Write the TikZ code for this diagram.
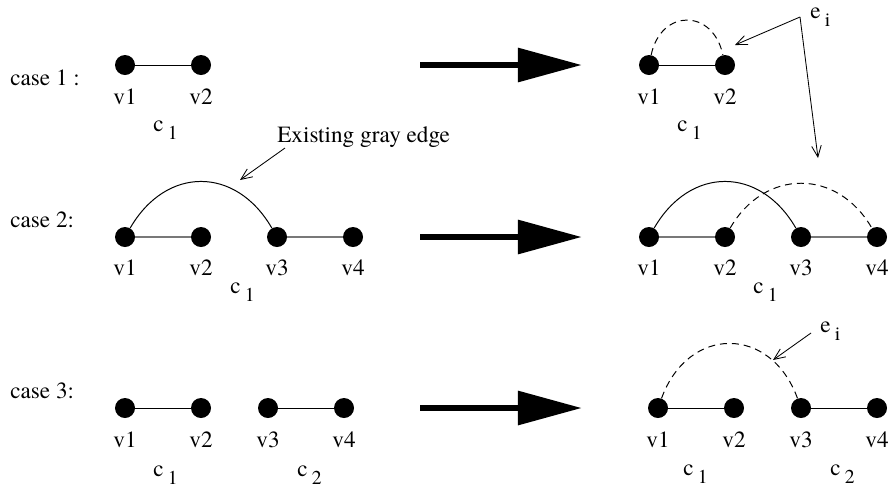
\documentclass[tikz,border=0pt]{standalone}
\usepackage{fontspec}
\setmainfont{texgyretermes-regular.otf}
\usepackage{tikz}
\usetikzlibrary{arrows.meta}
\usepackage{xcolor}
\definecolor{edgegray}{RGB}{120, 120, 120}
\newcommand{\lowsub}[2]{#1\hspace{3pt}\raisebox{-6pt}{\fontsize{14}{14}\selectfont #2}}
\tikzstyle{vertex} = [circle, fill=black, inner sep=0pt, minimum size=0.5cm]
\tikzstyle{vlabel} = [anchor=base, inner sep=0pt]
\tikzstyle{tlabel} = [anchor=base west, inner sep=0pt]
\tikzstyle{edge} = [line width=0.7pt, black]
\tikzstyle{grayedge} = [line width=1pt, edgegray]
\tikzstyle{newedge} = [line width=0.7pt, dash pattern=on 5pt off 3.5pt]
\tikzstyle{pointer} = [-{Straight Barb[length=2.8mm, width=2.4mm]}, line width=0.6pt]
\tikzstyle{bigarrow} = [-{Triangle[length=1.6cm, width=0.82cm]}, line width=4.7pt]

\begin{document}
\begin{tikzpicture}[x=0.025cm, y=-0.025cm, font=\rmfamily\fontsize{16.5}{19}\selectfont]
\useasboundingbox (0,0) rectangle (891,489);

% Case labels
\node[tlabel] (case1) at (10, 85) {case 1 :};
\node[tlabel] (case2) at (10, 227) {case 2:};
\node[tlabel] (case3) at (10, 398) {case 3:};

% Case 1, before
\node[vertex] (a1) at (125, 65) {};
\node[vertex] (a2) at (201, 65) {};
\draw[edge] (a1) -- (a2);
\node[vlabel] (la1) at (125, 104) {v1};
\node[vlabel] (la2) at (201, 104) {v2};
\node[tlabel] (ca1) at (153, 131) {\lowsub{c}{1}};

% Case 1, after
\node[vertex] (p1) at (649, 65) {};
\node[vertex] (p2) at (725, 65) {};
\draw[edge] (p1) -- (p2);
\draw[newedge] (p1) to[out=78, in=102, looseness=1.7] (p2);
\node[vlabel] (lp1) at (649, 104) {v1};
\node[vlabel] (lp2) at (725, 104) {v2};
\node[tlabel] (cp1) at (677, 131) {\lowsub{c}{1}};

% Case 2, before
\node[vertex] (b1) at (125, 237) {};
\node[vertex] (b2) at (201, 237) {};
\node[vertex] (b3) at (277, 237) {};
\node[vertex] (b4) at (353, 237) {};
\draw[grayedge] (b1) -- (b2);
\draw[grayedge] (b3) -- (b4);
\draw[edge] (b1) to[out=60, in=120, looseness=1.3] (b3);
\node[vlabel] (lb1) at (125, 275) {v1};
\node[vlabel] (lb2) at (201, 275) {v2};
\node[vlabel] (lb3) at (277, 275) {v3};
\node[vlabel] (lb4) at (353, 275) {v4};
\node[tlabel] (cb1) at (230, 293) {\lowsub{c}{1}};

% Case 2, after
\node[vertex] (q1) at (649, 237) {};
\node[vertex] (q2) at (725, 237) {};
\node[vertex] (q3) at (801, 237) {};
\node[vertex] (q4) at (877, 237) {};
\draw[grayedge] (q1) -- (q2);
\draw[grayedge] (q3) -- (q4);
\draw[edge] (q1) to[out=60, in=120, looseness=1.3] (q3);
\draw[newedge] (q2) to[out=60, in=120, looseness=1.25] (q4);
\node[vlabel] (lq1) at (649, 275) {v1};
\node[vlabel] (lq2) at (725, 275) {v2};
\node[vlabel] (lq3) at (801, 275) {v3};
\node[vlabel] (lq4) at (877, 275) {v4};
\node[tlabel] (cq1) at (753, 293) {\lowsub{c}{1}};

% Case 3, before
\node[vertex] (d1) at (125, 408) {};
\node[vertex] (d2) at (201, 408) {};
\node[vertex] (d3) at (268, 408) {};
\node[vertex] (d4) at (344, 408) {};
\draw[edge] (d1) -- (d2);
\draw[edge] (d3) -- (d4);
\node[vlabel] (ld1) at (125, 447) {v1};
\node[vlabel] (ld2) at (201, 447) {v2};
\node[vlabel] (ld3) at (268, 447) {v3};
\node[vlabel] (ld4) at (344, 447) {v4};
\node[tlabel] (cd1) at (153, 476) {\lowsub{c}{1}};
\node[tlabel] (cd2) at (297, 476) {\lowsub{c}{2}};

% Case 3, after
\node[vertex] (s1) at (658, 408) {};
\node[vertex] (s2) at (734, 408) {};
\node[vertex] (s3) at (801, 408) {};
\node[vertex] (s4) at (877, 408) {};
\draw[edge] (s1) -- (s2);
\draw[edge] (s3) -- (s4);
\draw[newedge] (s1) to[out=70, in=110, looseness=1.47] (s3);
\node[vlabel] (ls1) at (658, 447) {v1};
\node[vlabel] (ls2) at (734, 447) {v2};
\node[vlabel] (ls3) at (801, 447) {v3};
\node[vlabel] (ls4) at (877, 447) {v4};
\node[tlabel] (cs1) at (683, 475) {\lowsub{c}{1}};
\node[tlabel] (cs2) at (830, 475) {\lowsub{c}{2}};

% Big arrows
\coordinate (go1) at (420, 65);   \coordinate (to1) at (582, 65);
\coordinate (go2) at (420, 237);  \coordinate (to2) at (582, 237);
\coordinate (go3) at (420, 408);  \coordinate (to3) at (582, 408);
\draw[bigarrow] (go1) -- (to1);
\draw[bigarrow] (go2) -- (to2);
\draw[bigarrow] (go3) -- (to3);

% Annotations
\node[tlabel] (ei1) at (810, 18) {\lowsub{e}{i}};
\coordinate (eitip) at (800, 17);
\coordinate (hit1) at (735, 45);
\coordinate (hit2) at (818, 158);
\draw[pointer] (eitip) -- (hit1);
\draw[pointer] (eitip) -- (hit2);

\node[tlabel] (gray) at (277, 142) {Existing gray edge};
\coordinate (graytip) at (285, 148);
\coordinate (grayhit) at (240, 180);
\draw[pointer] (graytip) -- (grayhit);

\node[tlabel] (ei3) at (820, 332) {\lowsub{e}{i}};
\coordinate (ei3tip) at (811, 333);
\coordinate (ei3hit) at (773, 360);
\draw[pointer] (ei3tip) -- (ei3hit);

\end{tikzpicture}
\end{document}
